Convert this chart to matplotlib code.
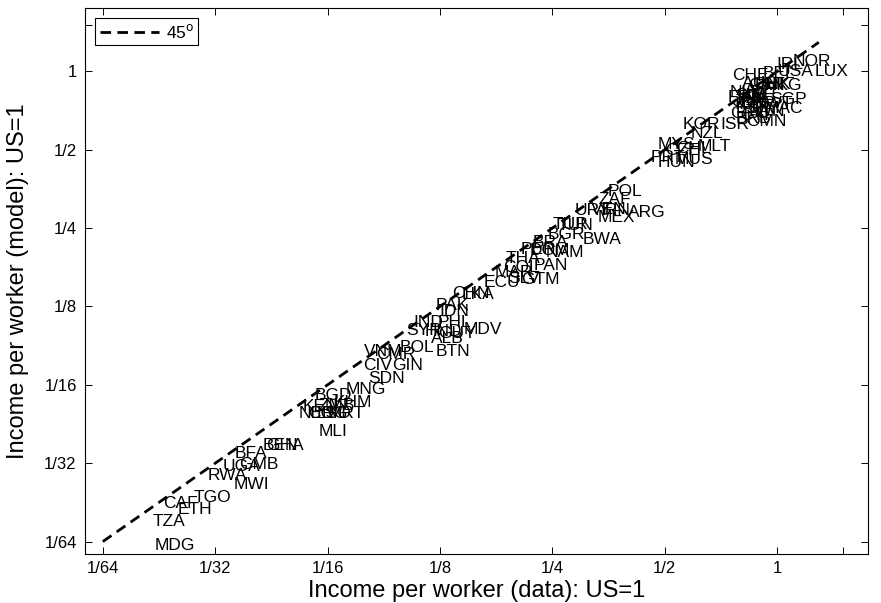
import numpy as np
import matplotlib
matplotlib.use('Agg')
import matplotlib.pyplot as plt

plt.rcParams['font.family'] = ['Liberation Sans', 'DejaVu Sans']

# country codes and income per worker relative to US, as log2 (data, model)
codes = ['MDG', 'TZA', 'CAF', 'ETH', 'TGO', 'RWA', 'MWI', 'UGA', 'GMB', 'BFA',
         'BEN', 'GHA', 'MNG', 'SDN', 'BGD', 'KEN', 'ZMB', 'KHM', 'NER', 'COG',
         'LSO', 'MRT', 'MLI', 'VNM', 'CMR', 'BOL', 'CIV', 'GIN', 'BTN', 'ALB',
         'MDV', 'IND', 'PHL', 'SYR', 'HND', 'GUY', 'PAK', 'IDN', 'CHN', 'LKA',
         'ECU', 'MAR', 'COL', 'SLV', 'GTM', 'THA', 'PAN', 'PER', 'DOM', 'NAM',
         'BRA', 'BGR', 'BWA', 'TUR', 'TUN', 'URY', 'VEN', 'IRN', 'ARG', 'MEX',
         'POL', 'ZAF', 'KOR', 'ISR', 'NZL', 'MYS', 'CZE', 'CHL', 'MLT', 'PRT',
         'HUN', 'MUS', 'OMN', 'IRL', 'NOR', 'BEL', 'USA', 'LUX', 'CHE', 'AUS',
         'CAN', 'DNK', 'HKG', 'SGP', 'MAC', 'NLD', 'SWE', 'FRA', 'JPN', 'ITA',
         'FIN', 'GBR', 'ISL', 'AUT', 'ESP', 'GRC', 'TWN', 'CYP', 'KWT', 'BRB']

log2_data = [-5.54, -5.56, -5.46, -5.33, -5.19, -5.07, -4.84, -4.93, -4.79, -4.83,
             -4.58, -4.55, -3.84, -3.64, -4.12, -4.22, -4.08, -3.95, -4.26, -4.17,
             -4.10, -4.00, -4.08, -3.68, -3.57, -3.36, -3.68, -3.43, -3.04, -3.08,
             -2.79, -3.24, -3.02, -3.30, -3.14, -3.02, -3.04, -3.01, -2.89, -2.81,
             -2.61, -2.51, -2.44, -2.39, -2.28, -2.42, -2.17, -2.28, -2.20, -2.06,
             -2.18, -2.04, -1.73, -2.00, -1.95, -1.80, -1.66, -1.57, -1.33, -1.60,
             -1.51, -1.59, -0.84, -0.51, -0.77, -1.06, -1.00, -0.90, -0.71, -1.13,
             -1.06, -0.91, -0.28, -0.01, 0.14, -0.13, 0.00, 0.33, -0.40, -0.31,
             -0.26, -0.20, -0.11, -0.06, -0.11, -0.42, -0.37, -0.44, -0.40, -0.38,
             -0.33, -0.35, -0.28, -0.29, -0.37, -0.42, -0.28, -0.33, -0.20, -0.37]

log2_model = [-6.05, -5.75, -5.52, -5.59, -5.44, -5.16, -5.27, -5.04, -5.02, -4.87,
              -4.78, -4.78, -4.06, -3.92, -4.14, -4.28, -4.27, -4.23, -4.36, -4.37,
              -4.37, -4.36, -4.59, -3.57, -3.61, -3.52, -3.75, -3.75, -3.58, -3.41,
              -3.29, -3.20, -3.20, -3.31, -3.32, -3.34, -2.99, -3.07, -2.84, -2.85,
              -2.69, -2.57, -2.50, -2.64, -2.66, -2.39, -2.48, -2.27, -2.29, -2.31,
              -2.18, -2.08, -2.14, -1.96, -1.97, -1.78, -1.76, -1.77, -1.80, -1.86,
              -1.54, -1.64, -0.68, -0.68, -0.80, -0.94, -1.01, -0.99, -0.96, -1.10,
              -1.17, -1.13, -0.64, 0.09, 0.13, -0.03, 0.00, 0.00, -0.06, -0.15,
              -0.18, -0.17, -0.18, -0.36, -0.48, -0.27, -0.31, -0.33, -0.38, -0.43,
              -0.36, -0.41, -0.31, -0.23, -0.48, -0.54, -0.51, -0.57, -0.41, -0.60]

tick_vals = [1/64, 1/32, 1/16, 1/8, 1/4, 1/2, 1, 1.5]
tick_labels = ['1/64', '1/32', '1/16', '1/8', '1/4', '1/2', '1', '']

fig = plt.figure(figsize=(8.81, 6.03), dpi=100)
ax = fig.add_axes([85/881, 49/603, 783/881, 546/603])

ax.set_xscale('log', base=2)
ax.set_yscale('log', base=2)
ax.set_xlim(0.014, 1.75)
ax.set_ylim(0.014, 1.75)

line45 = np.array([1/64, 2**0.37])
ax.plot(line45, line45, color='black', lw=2, dashes=(3.8, 2.3), label='45$^{\\mathrm{o}}$')

for c, lx, ly in zip(codes, log2_data, log2_model):
    ax.text(2**lx, 2**ly, c, fontsize=12.5, ha='left', va='center', color='black')

ax.set_xticks(tick_vals)
ax.set_xticklabels(tick_labels, fontsize=12)
ax.set_yticks(tick_vals)
ax.set_yticklabels(tick_labels, fontsize=12)
ax.minorticks_off()
ax.tick_params(direction='in', length=5, width=0.7, top=True, right=True)
ax.tick_params(axis='x', pad=5)
ax.tick_params(axis='y', pad=6)
for s in ax.spines.values():
    s.set_linewidth(0.8)

fig.text(476.5/881, 6/603, 'Income per worker (data): US=1', fontsize=17,
         ha='center', va='baseline')
fig.text(18/881, 322/603, 'Income per worker (model): US=1', fontsize=17,
         ha='center', va='center', rotation=90)

leg = ax.legend(loc='upper left', fontsize=12.5, fancybox=False, edgecolor='black',
                framealpha=1, borderaxespad=0.6, handlelength=3.4, borderpad=0.25,
                handletextpad=0.4)
leg.get_frame().set_linewidth(0.8)

fig.savefig('out.png', dpi=100)
